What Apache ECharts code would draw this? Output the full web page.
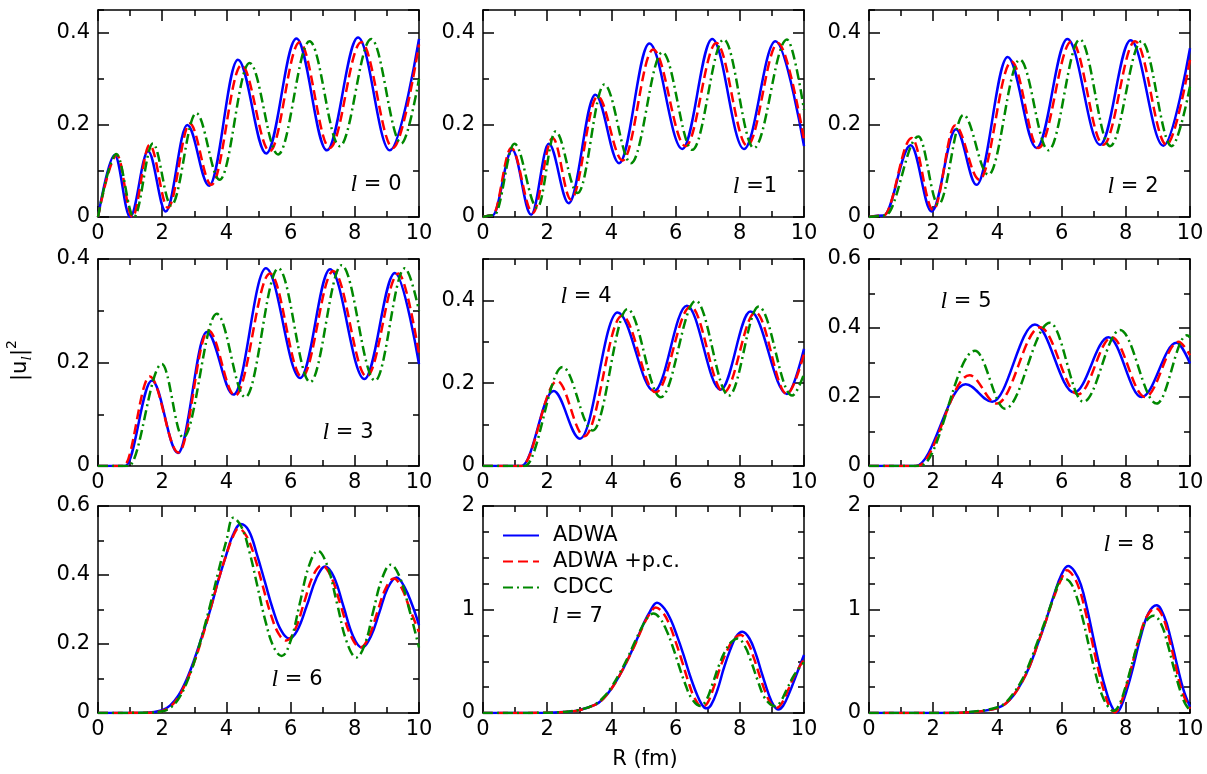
<!DOCTYPE html>
<html><head><meta charset="utf-8">
<script src="https://cdn.jsdelivr.net/npm/echarts@6/dist/echarts.min.js"></script>
<style>html,body{margin:0;padding:0;background:#fff}#chart{width:1207px;height:774px}</style>
</head><body><div id="chart"></div>
<script>
// ---------------- data ----------------
const seriesNames = ['ADWA', 'ADWA +p.c.', 'CDCC'];
const xTicks = [0, 2, 4, 6, 8, 10];
const yMax   = [0.45, 0.45, 0.45, 0.4, 0.5, 0.6, 0.6, 2, 2];
const yMajor = [0.2, 0.2, 0.2, 0.2, 0.2, 0.2, 0.2, 1, 1];
const yMinor = [0.1, 0.1, 0.1, 0.1, 0.1, 0.1, 0.1, 0.25, 0.25];
const lValues = ['0', '1', '2', '3', '4', '5', '6', '7', '8'];
const lSep = [' = ', ' =', ' = ', ' = ', ' = ', ' = ', ' = ', ' = ', ' = '];

// l = 0
const l0_ADWA = [[0,0],[0.52,0.135],[1.0,0.0],[1.56,0.143],[2.11,0.012],[2.78,0.2],[3.46,0.068],[4.36,0.342],[5.24,0.138],[6.18,0.388],[7.13,0.145],[8.1,0.39],[9.09,0.145],[10,0.387]];
const l0_PC   = [[0,0],[0.59,0.135],[1.07,0.0],[1.61,0.157],[2.18,0.02],[2.86,0.203],[3.53,0.07],[4.47,0.33],[5.35,0.143],[6.28,0.38],[7.22,0.15],[8.2,0.38],[9.19,0.15],[10,0.375]];
const l0_CDCC = [[0,0],[0.57,0.137],[1.12,0.0],[1.71,0.16],[2.28,0.025],[3.06,0.226],[3.79,0.081],[4.72,0.335],[5.61,0.136],[6.59,0.382],[7.53,0.154],[8.51,0.387],[9.45,0.16],[10,0.3]];
// l = 1
const l1_ADWA = [[0,0],[0.3,0.004],[0.91,0.146],[1.5,0.005],[2.05,0.159],[2.67,0.03],[3.5,0.266],[4.24,0.117],[5.18,0.377],[6.21,0.148],[7.14,0.387],[8.13,0.148],[9.11,0.382],[10,0.154]];
const l1_PC   = [[0,0],[0.3,0.004],[0.88,0.15],[1.55,0.009],[2.17,0.172],[2.74,0.038],[3.57,0.262],[4.35,0.123],[5.3,0.364],[6.31,0.154],[7.27,0.378],[8.23,0.155],[9.19,0.378],[10,0.168]];
const l1_CDCC = [[0,0],[0.35,0.004],[0.98,0.159],[1.69,0.02],[2.26,0.186],[2.95,0.052],[3.78,0.288],[4.61,0.117],[5.59,0.358],[6.52,0.146],[7.5,0.386],[8.44,0.15],[9.47,0.386],[10,0.233]];
// l = 2
const l2_ADWA = [[0,0],[0.45,0.003],[1.3,0.156],[1.95,0.012],[2.71,0.191],[3.35,0.07],[4.32,0.348],[5.22,0.15],[6.18,0.387],[7.2,0.157],[8.15,0.384],[9.17,0.155],[10,0.367]];
const l2_PC   = [[0,0],[0.45,0.003],[1.33,0.172],[2.0,0.015],[2.68,0.199],[3.44,0.081],[4.44,0.338],[5.28,0.15],[6.31,0.382],[7.3,0.157],[8.29,0.382],[9.27,0.157],[10,0.342]];
const l2_CDCC = [[0,0],[0.5,0.003],[1.54,0.175],[2.16,0.027],[2.94,0.222],[3.72,0.092],[4.7,0.342],[5.59,0.145],[6.57,0.386],[7.51,0.154],[8.49,0.382],[9.43,0.154],[10,0.284]];
// l = 3
const l3_ADWA = [[0,0],[0.85,0],[1.68,0.165],[2.49,0.025],[3.39,0.259],[4.22,0.138],[5.23,0.382],[6.3,0.17],[7.23,0.38],[8.3,0.168],[9.25,0.373],[10,0.197]];
const l3_PC   = [[0,0],[0.8,0],[1.61,0.173],[2.51,0.026],[3.44,0.262],[4.27,0.136],[5.36,0.372],[6.35,0.172],[7.33,0.377],[8.37,0.173],[9.36,0.372],[10,0.217]];
const l3_CDCC = [[0,0],[0.95,0],[1.99,0.197],[2.65,0.055],[3.7,0.294],[4.59,0.133],[5.62,0.382],[6.61,0.162],[7.59,0.388],[8.63,0.165],[9.56,0.382],[10,0.3]];
// l = 4
const l4_ADWA = [[0,0],[1.2,0],[2.2,0.181],[3.02,0.066],[4.19,0.371],[5.33,0.181],[6.35,0.387],[7.4,0.184],[8.33,0.373],[9.47,0.174],[10,0.283]];
const l4_PC   = [[0,0],[1.2,0],[2.31,0.205],[3.16,0.072],[4.33,0.363],[5.38,0.178],[6.47,0.385],[7.5,0.178],[8.49,0.371],[9.47,0.174],[10,0.271]];
const l4_CDCC = [[0,0],[1.3,0],[2.48,0.239],[3.42,0.086],[4.5,0.379],[5.54,0.166],[6.63,0.399],[7.66,0.17],[8.59,0.385],[9.63,0.17],[10,0.222]];
// l = 5
const l5_ADWA = [[0,0],[1.45,0],[3.01,0.237],[3.84,0.186],[5.17,0.41],[6.39,0.213],[7.46,0.373],[8.49,0.2],[9.58,0.357],[10,0.297]];
const l5_PC   = [[0,0],[1.5,0],[3.13,0.263],[3.98,0.181],[5.33,0.402],[6.52,0.208],[7.56,0.373],[8.6,0.2],[9.64,0.36],[10,0.321]];
const l5_CDCC = [[0,0],[1.6,0],[3.3,0.334],[4.24,0.166],[5.64,0.415],[6.68,0.186],[7.82,0.394],[8.96,0.181],[9.9,0.379],[10,0.373]];
// l = 6
const l6_ADWA = [[0,0],[1.5,0.001],[2.0,0.008],[2.25,0.022],[2.5,0.05],[2.75,0.095],[3.0,0.155],[3.25,0.225],[3.5,0.3],[3.75,0.385],[4.0,0.46],[4.2,0.515],[4.45,0.548],[4.7,0.528],[4.95,0.46],[5.2,0.38],[5.45,0.3],[5.7,0.24],[5.95,0.216],[6.2,0.238],[6.5,0.31],[6.8,0.39],[7.08,0.425],[7.35,0.394],[7.65,0.308],[7.95,0.222],[8.22,0.19],[8.5,0.222],[8.76,0.29],[9.03,0.363],[9.3,0.393],[9.55,0.365],[9.8,0.31],[10,0.255]];
const l6_PC   = [[0,0],[1.5,0.001],[2.0,0.006],[2.25,0.018],[2.5,0.045],[2.75,0.09],[3.0,0.148],[3.25,0.22],[3.5,0.3],[3.75,0.385],[4.0,0.46],[4.2,0.51],[4.38,0.535],[4.63,0.512],[4.88,0.452],[5.13,0.369],[5.38,0.287],[5.63,0.229],[5.86,0.21],[6.14,0.242],[6.42,0.32],[6.7,0.398],[6.97,0.428],[7.27,0.393],[7.57,0.309],[7.87,0.225],[8.17,0.19],[8.43,0.219],[8.7,0.292],[8.96,0.361],[9.22,0.39],[9.47,0.36],[9.72,0.3],[10,0.235]];
const l6_CDCC = [[0,0],[1.5,0.001],[2.0,0.005],[2.25,0.015],[2.5,0.04],[2.75,0.085],[3.0,0.148],[3.25,0.228],[3.5,0.315],[3.75,0.41],[4.0,0.5],[4.22,0.566],[4.47,0.539],[4.72,0.466],[4.97,0.366],[5.22,0.265],[5.47,0.192],[5.72,0.165],[6.0,0.209],[6.28,0.315],[6.57,0.426],[6.85,0.47],[7.15,0.425],[7.45,0.316],[7.75,0.206],[8.05,0.161],[8.32,0.201],[8.58,0.297],[8.85,0.39],[9.12,0.43],[9.4,0.394],[9.7,0.299],[10,0.19]];
// l = 7
const l7_ADWA = [[0,0],[2.0,0.002],[2.5,0.01],[3.0,0.028],[3.5,0.08],[3.75,0.14],[4.0,0.235],[4.25,0.36],[4.5,0.51],[4.75,0.68],[5.0,0.86],[5.2,0.98],[5.42,1.065],[5.65,1.01],[5.85,0.9],[6.05,0.74],[6.25,0.56],[6.45,0.36],[6.65,0.19],[6.82,0.08],[6.96,0.045],[7.1,0.075],[7.3,0.22],[7.5,0.43],[7.7,0.61],[7.9,0.745],[8.08,0.785],[8.3,0.72],[8.5,0.57],[8.7,0.37],[8.9,0.18],[9.05,0.075],[9.2,0.035],[9.35,0.07],[9.55,0.2],[9.75,0.36],[10,0.56]];
const l7_PC   = [[0,0],[2.0,0.002],[2.5,0.01],[3.0,0.028],[3.5,0.08],[3.75,0.14],[4.0,0.235],[4.25,0.36],[4.5,0.51],[4.75,0.67],[5.0,0.85],[5.2,0.96],[5.38,1.02],[5.6,0.97],[5.8,0.86],[6.0,0.69],[6.2,0.5],[6.4,0.3],[6.6,0.14],[6.83,0.058],[7.0,0.1],[7.2,0.26],[7.4,0.45],[7.6,0.6],[7.8,0.71],[8.02,0.753],[8.25,0.68],[8.45,0.52],[8.65,0.33],[8.85,0.16],[9.0,0.075],[9.15,0.05],[9.3,0.09],[9.5,0.22],[9.7,0.36],[10,0.52]];
const l7_CDCC = [[0,0],[2.0,0.002],[2.5,0.01],[3.0,0.03],[3.5,0.085],[3.75,0.15],[4.0,0.25],[4.25,0.38],[4.5,0.53],[4.75,0.7],[5.0,0.86],[5.15,0.93],[5.31,0.962],[5.5,0.92],[5.7,0.81],[5.9,0.65],[6.1,0.46],[6.3,0.28],[6.5,0.14],[6.77,0.068],[6.95,0.12],[7.15,0.28],[7.35,0.46],[7.55,0.6],[7.75,0.69],[7.93,0.72],[8.15,0.65],[8.35,0.5],[8.55,0.32],[8.75,0.16],[8.95,0.085],[9.1,0.066],[9.25,0.1],[9.45,0.22],[9.7,0.37],[10,0.49]];
// l = 8
const l8_ADWA = [[0,0],[2.5,0.001],[3.0,0.006],[3.5,0.018],[4.0,0.048],[4.25,0.09],[4.5,0.17],[4.75,0.29],[5.0,0.45],[5.25,0.66],[5.5,0.88],[5.75,1.13],[6.0,1.34],[6.2,1.42],[6.4,1.37],[6.6,1.24],[6.8,1.0],[7.0,0.71],[7.2,0.43],[7.4,0.2],[7.55,0.07],[7.71,0.006],[7.85,0.06],[8.05,0.24],[8.25,0.47],[8.45,0.72],[8.7,0.96],[8.96,1.04],[9.2,0.93],[9.4,0.72],[9.6,0.46],[9.8,0.22],[10,0.06]];
const l8_PC   = [[0,0],[2.5,0.001],[3.0,0.006],[3.5,0.018],[4.0,0.048],[4.25,0.09],[4.5,0.17],[4.75,0.29],[5.0,0.45],[5.25,0.66],[5.5,0.88],[5.75,1.11],[6.0,1.3],[6.16,1.38],[6.35,1.33],[6.55,1.2],[6.75,0.97],[6.95,0.69],[7.15,0.41],[7.35,0.18],[7.5,0.06],[7.66,0.006],[7.8,0.06],[8.0,0.24],[8.2,0.47],[8.4,0.71],[8.65,0.93],[8.93,1.013],[9.15,0.93],[9.35,0.72],[9.55,0.46],[9.75,0.21],[10,0.04]];
const l8_CDCC = [[0,0],[2.5,0.001],[3.0,0.007],[3.5,0.022],[4.0,0.055],[4.25,0.1],[4.5,0.19],[4.75,0.31],[5.0,0.48],[5.25,0.69],[5.5,0.9],[5.75,1.12],[5.9,1.25],[6.05,1.3],[6.25,1.27],[6.45,1.14],[6.65,0.92],[6.85,0.65],[7.05,0.39],[7.25,0.18],[7.45,0.06],[7.62,0.02],[7.78,0.07],[7.98,0.24],[8.18,0.46],[8.38,0.68],[8.6,0.87],[8.87,0.94],[9.1,0.86],[9.3,0.67],[9.5,0.43],[9.7,0.21],[9.85,0.09],[10,0.026]];

const panelData = [
  [l0_ADWA, l0_PC, l0_CDCC], [l1_ADWA, l1_PC, l1_CDCC], [l2_ADWA, l2_PC, l2_CDCC],
  [l3_ADWA, l3_PC, l3_CDCC], [l4_ADWA, l4_PC, l4_CDCC], [l5_ADWA, l5_PC, l5_CDCC],
  [l6_ADWA, l6_PC, l6_CDCC], [l7_ADWA, l7_PC, l7_CDCC], [l8_ADWA, l8_PC, l8_CDCC]
];

// ---------------- layout & styles ----------------
const FONT = 'DejaVu Sans';
const gridLeft = [98, 483, 869];
const gridTop = [10, 259, 506];
const GW = 321, GH = 207;
const lineStyles = [
  { color: '#0000ff', type: 'solid' },
  { color: '#ff0000', type: [10, 5] },
  { color: '#008800', type: [10, 4, 2, 4] }
];
const labelPos = [[376,185],[755,187],[1133,187],[348,433],[586,297],[966,302],[297,680],[552,617],[1129,545]];

const grids = [], xAxes = [], yAxes = [], series = [];
const blk = { color: '#000', width: 1.5 };
const lab = { fontFamily: FONT, fontSize: 21, color: '#000' };

for (let i = 0; i < 9; i++) {
  const r = Math.floor(i / 3), c = i % 3;
  const g = grids.length;
  grids.push({ left: gridLeft[c], top: gridTop[r], width: GW, height: GH });
  const xb = xAxes.length;
  ['bottom', 'top'].forEach((pos, k) => xAxes.push({
    type: 'value', gridIndex: g, position: pos, min: xTicks[0], max: xTicks[xTicks.length - 1], interval: 2,
    axisLine: { show: true, onZero: false, lineStyle: blk },
    axisTick: { show: true, inside: true, length: 11, lineStyle: blk },
    minorTick: { show: true, splitNumber: 2, length: 6, lineStyle: blk },
    splitLine: { show: false }, minorSplitLine: { show: false },
    axisLabel: Object.assign({ show: k === 0, margin: 6 }, lab)
  }));
  const yb = yAxes.length;
  const showMax = Math.abs(yMax[i] / yMajor[i] - Math.round(yMax[i] / yMajor[i])) < 1e-6;
  ['left', 'right'].forEach((pos, k) => yAxes.push({
    type: 'value', gridIndex: g, position: pos, min: 0, max: yMax[i], interval: yMajor[i],
    axisLine: { show: true, onZero: false, lineStyle: blk },
    axisTick: { show: true, inside: true, length: 11, lineStyle: blk },
    splitLine: { show: false },
    axisLabel: Object.assign({ show: k === 0, margin: 8, showMaxLabel: showMax }, lab)
  }));
  // overlay grid for the y minor ticks
  const g2 = grids.length;
  grids.push({ left: gridLeft[c], top: gridTop[r], width: GW, height: GH });
  xAxes.push({ type: 'value', gridIndex: g2, min: 0, max: 10, show: false });
  ['left', 'right'].forEach(pos => yAxes.push({
    type: 'value', gridIndex: g2, position: pos, min: 0, max: yMax[i], interval: yMinor[i],
    axisLine: { show: false },
    axisTick: { show: true, inside: true, length: 6, lineStyle: blk },
    splitLine: { show: false }, axisLabel: { show: false }
  }));

  panelData[i].forEach((d, s) => {
    const mono = i < 6;
    series.push({
      name: seriesNames[s], type: 'line', xAxisIndex: xb, yAxisIndex: yb,
      data: d, symbol: 'none', showSymbol: false,
      smooth: mono ? 0.36 : 0.4, smoothMonotone: mono ? 'x' : undefined,
      lineStyle: { color: lineStyles[s].color, width: 2.5, type: lineStyles[s].type },
      itemStyle: { color: lineStyles[s].color },
      emphasis: { disabled: true }, silent: true, z: 2 + s
    });
  });
}

const graphics = labelPos.map((p, i) => ({
  type: 'text', x: p[0], y: p[1], z: 100,
  style: {
    text: '{i|l}{n|' + lSep[i] + lValues[i] + '}',
    rich: {
      i: { fontFamily: 'Liberation Serif', fontStyle: 'italic', fontSize: 24, fill: '#000' },
      n: { fontFamily: FONT, fontSize: 21, fill: '#000' }
    },
    align: i === 7 ? 'left' : 'center', verticalAlign: 'middle', fill: '#000'
  }
}));
graphics.push({
  type: 'text', x: 645, y: 760, z: 100,
  style: { text: 'R (fm)', fontFamily: FONT, fontSize: 21, fill: '#000', align: 'center', verticalAlign: 'middle' }
});
graphics.push({
  type: 'group', x: 21, y: 360, rotation: Math.PI / 2, z: 100,
  children: [
    { type: 'text', x: -21, y: 0, style: { text: '|u', fontFamily: FONT, fontSize: 21, fill: '#000', align: 'left', verticalAlign: 'middle' } },
    { type: 'text', x: -0.5, y: 6, style: { text: 'l', fontFamily: 'Liberation Serif', fontStyle: 'italic', fontSize: 15, fill: '#000', align: 'left', verticalAlign: 'middle' } },
    { type: 'text', x: 4, y: 0, style: { text: '|', fontFamily: FONT, fontSize: 21, fill: '#000', align: 'left', verticalAlign: 'middle' } },
    { type: 'text', x: 11, y: -9, style: { text: '2', fontFamily: FONT, fontSize: 14, fill: '#000', align: 'left', verticalAlign: 'middle' } }
  ]
});

const chart = echarts.init(document.getElementById('chart'), null, { renderer: 'canvas' });
chart.setOption({
  animation: false,
  backgroundColor: '#fff',
  grid: grids, xAxis: xAxes, yAxis: yAxes, series: series,
  legend: {
    data: seriesNames, orient: 'vertical', left: 497, top: 520,
    itemWidth: 36, itemHeight: 14, itemGap: 5, selectedMode: false,
    itemStyle: { opacity: 0 },
    textStyle: { fontFamily: FONT, fontSize: 21, color: '#000', padding: [0, 0, 0, 9] }
  },
  graphic: graphics
});
</script></body></html>
